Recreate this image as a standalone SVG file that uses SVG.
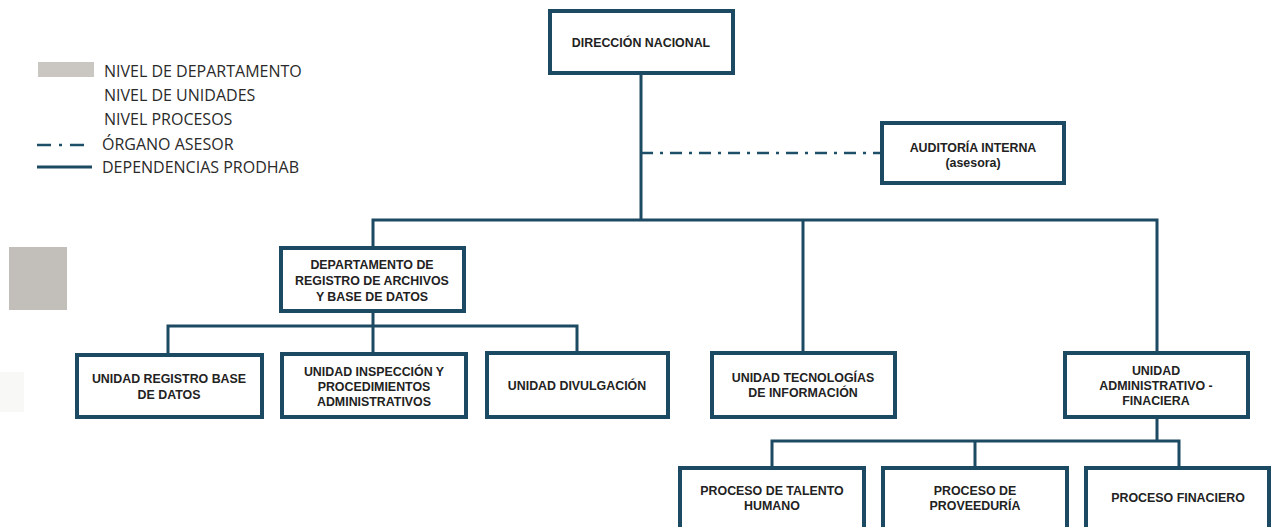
<svg xmlns="http://www.w3.org/2000/svg" width="1271" height="527" viewBox="0 0 1271 527">
<style>
.box{fill:#fff;stroke:#1d4a63;stroke-width:4}
.ln{fill:none;stroke:#1d4a63;stroke-width:3}
.dd{fill:none;stroke:#1d5068;stroke-width:2.5;stroke-dasharray:12 7 3 7}
.t{font-family:"Liberation Sans",Arial,sans-serif;font-weight:700;font-size:12.4px;fill:#222;text-anchor:middle}
.lg{font-family:"Open Sans","Liberation Sans",sans-serif;font-size:16px;fill:#2a2a2a}
</style>
<rect width="1271" height="527" fill="#fff"/>
<g id="legend">
<rect x="38" y="62" width="56" height="15" fill="#cac6c2"/>
<text class="lg" x="104" y="77">NIVEL DE DEPARTAMENTO</text>
<text class="lg" x="104" y="101">NIVEL DE UNIDADES</text>
<text class="lg" x="104" y="125">NIVEL PROCESOS</text>
<line x1="37" y1="145" x2="92" y2="145" class="dd" style="stroke-dasharray:14 8 3 8"/>
<text class="lg" x="102" y="150">ÓRGANO ASESOR</text>
<line x1="37" y1="167" x2="92" y2="167" stroke="#1d4a63" stroke-width="3"/>
<text class="lg" x="102" y="173">DEPENDENCIAS PRODHAB</text>
<rect x="9" y="247" width="58" height="63" fill="#c2beb9"/>
<rect x="0" y="372" width="24" height="40" fill="#f8f8f7"/>
</g>
<g id="connectors">
<line x1="641" y1="73" x2="641" y2="220" class="ln"/>
<line x1="641" y1="153" x2="882" y2="153" class="dd"/>
<polyline points="373,248 373,220 1157,220 1157,353" class="ln"/>
<line x1="803" y1="220" x2="803" y2="353" class="ln"/>
<line x1="373" y1="311" x2="373" y2="326" class="ln"/>
<polyline points="168,355 168,326 577,326 577,353" class="ln"/>
<line x1="373" y1="326" x2="373" y2="354" class="ln"/>
<line x1="1157" y1="417" x2="1157" y2="441" class="ln"/>
<polyline points="772,468 772,441 1179,441 1179,468" class="ln"/>
<line x1="975" y1="441" x2="975" y2="468" class="ln"/>
</g>
<g id="direccion"><rect class="box" x="550" y="11" width="183" height="62"/><text class="t" x="641" y="47">DIRECCIÓN NACIONAL</text></g>
<g id="auditoria"><rect class="box" x="882" y="123" width="182" height="60"/><text class="t" x="973" y="152">AUDITORÍA INTERNA</text><text class="t" x="973" y="167">(asesora)</text></g>
<g id="departamento"><rect class="box" x="281" y="248" width="183" height="63"/><text class="t" x="372" y="269">DEPARTAMENTO DE</text><text class="t" x="372" y="285">REGISTRO DE ARCHIVOS</text><text class="t" x="372" y="301">Y BASE DE DATOS</text></g>
<g id="registro"><rect class="box" x="77" y="355" width="185" height="62"/><text class="t" x="169" y="383">UNIDAD REGISTRO BASE</text><text class="t" x="169" y="399">DE DATOS</text></g>
<g id="inspeccion"><rect class="box" x="282" y="354" width="184" height="63"/><text class="t" x="374" y="376">UNIDAD INSPECCIÓN Y</text><text class="t" x="374" y="391">PROCEDIMIENTOS</text><text class="t" x="374" y="406">ADMINISTRATIVOS</text></g>
<g id="divulgacion"><rect class="box" x="487" y="353" width="181" height="64"/><text class="t" x="577" y="390">UNIDAD DIVULGACIÓN</text></g>
<g id="tecnologias"><rect class="box" x="712" y="353" width="183" height="64"/><text class="t" x="803" y="382">UNIDAD TECNOLOGÍAS</text><text class="t" x="803" y="397">DE INFORMACIÓN</text></g>
<g id="administrativo"><rect class="box" x="1065" y="353" width="183" height="64"/><text class="t" x="1156" y="375">UNIDAD</text><text class="t" x="1156" y="390">ADMINISTRATIVO -</text><text class="t" x="1156" y="405">FINACIERA</text></g>
<g id="talento"><rect class="box" x="680" y="468" width="184" height="66"/><text class="t" x="772" y="495">PROCESO DE TALENTO</text><text class="t" x="772" y="510">HUMANO</text></g>
<g id="proveeduria"><rect class="box" x="883" y="468" width="184" height="66"/><text class="t" x="975" y="495">PROCESO DE</text><text class="t" x="975" y="510">PROVEEDURÍA</text></g>
<g id="financiero"><rect class="box" x="1086" y="468" width="183" height="66"/><text class="t" x="1178" y="502">PROCESO FINACIERO</text></g>
</svg>
